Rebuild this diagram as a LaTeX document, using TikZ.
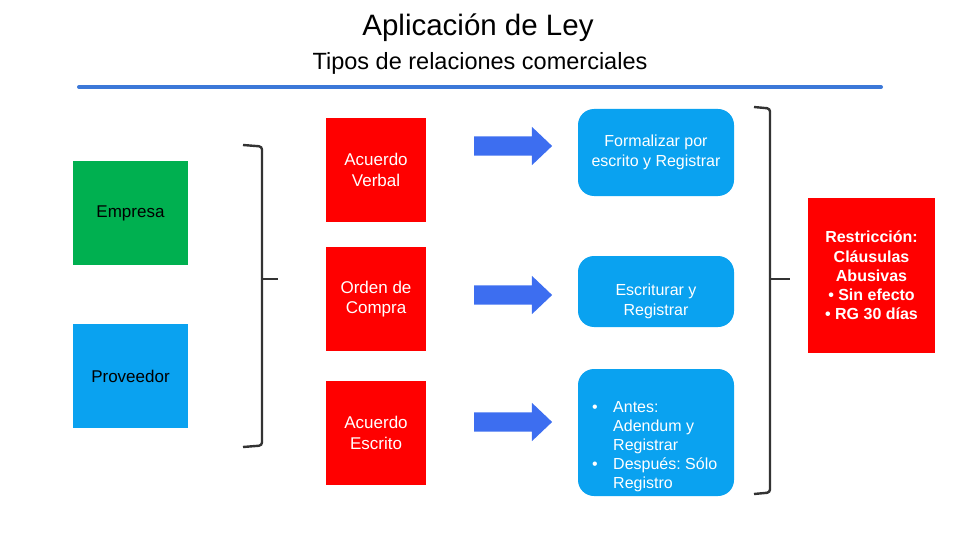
\documentclass[tikz,border=0pt]{standalone}
\usepackage{fontspec}
\setmainfont{Liberation Sans}
\usetikzlibrary{shapes.arrows}

\definecolor{rojo}{HTML}{FF0000}
\definecolor{verde}{HTML}{00B050}
\definecolor{celeste}{HTML}{0AA2F0}
\definecolor{azul}{HTML}{3D6EF0}
\definecolor{linea}{HTML}{3C78D8}
\definecolor{oscuro}{HTML}{333333}

\tikzset{
  box/.style={minimum width=#1, text=white, align=center, inner sep=0pt},
  redbox/.style={box=100pt, fill=rojo, minimum height=104pt, font=\fontsize{17}{20.5}\selectfont},
  partbox/.style={fill=#1, minimum width=115pt, minimum height=104pt, inner sep=0pt},
  partlabel/.style={font=\fontsize{17}{20}\selectfont},
  roundbox/.style={box=156pt, fill=celeste, rounded corners=16pt, font=\fontsize{16}{20}\selectfont},
  blockarrow/.style={single arrow, fill=azul, draw=none, minimum height=78pt, minimum width=38pt,
    single arrow head extend=9.5pt, single arrow tip angle=87, inner sep=9.5pt},
  bracket/.style={draw=oscuro, line width=2.4pt, rounded corners=3pt}
}

\begin{document}
\begin{tikzpicture}[x=1pt, y=-1pt]
	\useasboundingbox (0,0) rectangle (960,540);
	% titulo
	\node (titulo) at (478,28) {\fontsize{29.5}{34}\selectfont Aplicación de Ley};
	\node (subtitulo) at (480,63) {\fontsize{23.5}{28}\selectfont Tipos de relaciones comerciales};
	\draw[linea, line width=4pt, line cap=round] (79,87) -- (881,87);
	% partes
	\node[partbox=verde] (empresa) at (130.5,213) {};
	\node[partbox=celeste] (proveedor) at (130.5,376) {};
	\node[partlabel] at (empresa.center) {Empresa};
	\node[partlabel] at (proveedor.center) {Proveedor};
	% llave izquierda
	\draw[bracket] (243,145) -- (262,146.5) -- (262,445.5) -- (243,447);
	\draw[bracket] (262,279) -- (278,279);
	% tipos de acuerdo
	\node[redbox] (verbal) at (376,170) {Acuerdo\\Verbal};
	\node[redbox] (orden) at (376,299) {Orden de\\Compra};
	\node[redbox] (escrito) at (376,433) {Acuerdo\\Escrito};
	% flechas
	\node[blockarrow] (flecha1) at (508,146) {};
	\node[blockarrow] (flecha2) at (508,295) {};
	\node[blockarrow] (flecha3) at (508,422) {};
	% acciones
	\node[roundbox, minimum height=87pt] (formal) at (656,152.5) {Formalizar por\\escrito y Registrar};
	\node[roundbox, minimum height=71pt] (escriturar) at (656,291.5) {};
	\node[box=156pt, font=\fontsize{16}{20}\selectfont] at ([yshift=-9.5pt]escriturar.center) {Escriturar y\\Registrar};
	\node[roundbox, minimum height=127pt] (antes) at (656,432.5) {};
	\node[anchor=north west, text=white, font=\fontsize{16}{19}\selectfont, inner sep=0pt] at (592,398.5)
		{\begin{tabular}{@{}p{21pt}@{}l@{}}
		•&Antes:\\ &Adendum y\\ &Registrar\\
		•&Después:\ Sólo\\ &Registro
		\end{tabular}};
	% llave derecha
	\draw[bracket] (754,107) -- (770,108.5) -- (770,492.5) -- (754,494);
	\draw[bracket] (770,279) -- (790,279);
	% restriccion
	\node[box=127pt, fill=rojo, minimum height=155pt, font=\bfseries\fontsize{16}{19.25}\selectfont] (restric) at (871.5,275.5)
		{Restricción:\\Cláusulas\\Abusivas\\• Sin efecto\\• RG 30 días};
\end{tikzpicture}
\end{document}
